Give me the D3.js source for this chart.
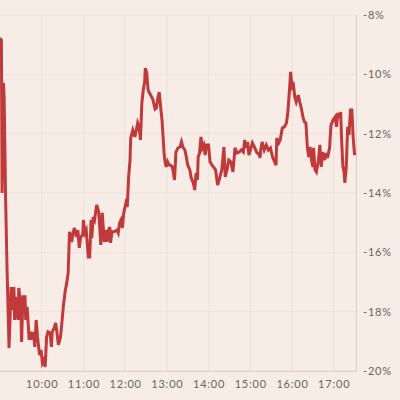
<!DOCTYPE html>
<html>
<head>
<meta charset="utf-8">
<script src="https://cdn.jsdelivr.net/npm/d3@7"></script>
<style>
body{margin:0;background:#f7ece6;}
#container{width:400px;height:400px;}
.tick text{font-family:Lato,"Open Sans",sans-serif;font-size:11px;fill:#6a6462;letter-spacing:0.8px;}
</style>
</head>
<body>
<div id="container"></div>
<script>
// minutes after 9:00 and % change at that time
var minutes = [0,2,3,5,6,8,10,12,13,16,18,20,21,24,26,27,30,31,33,36,37,39,42,44,46,48,50,52,54,56,57,59,61,63,65,67,69,72,74,75,78,80,82,84,87,89,91,94,96,98,
100,103,105,107,110,112,114,116,119,120,122,124,127,129,131,132,134,136,139,142,145,147,150,152,154,156,158,159,161,164,168,170,172,174,176,178,181,183,185,187,188,191,194,196,198,200,202,204,206,208,209,211,213,215,218,220,223,225,227,229,231,233,236,237,239,241,243,
245,248,251,253,256,259,261,263,266,268,270,273,275,278,280,282,284,285,287,289,291,293,295,297,300,302,305,307,310,313,316,319,322,324,327,329,332,335,338,341,344,347,350,352,354,356,358,360,363,366,369,373,
374,375,377,380,383,386,389,392,395,397,398,401,403,406,409,412,414,416,418,420,422,424,426,429,431,433,436,438,440,442,444,446,448,450,451,453,455,458,460,462,464,467,469,471,474,476,479,482,484,486,488,490,491,493,495,496,498,500,502,504,506,508,510]

var change = [-8.78,-8.84,-14.0,-10.29,-10.8,-14.13,-16.4,-18.3,-19.22,-17.17,-17.94,-17.17,-18.28,-17.5,-18.28,-17.2,-17.84,-19.02,-17.5,-17.5,-18.28,-17.84,-18.95,-18.68,-18.95,-18.68,-19.19,-18.28,-18.85,-19.29,-19.46,-19.29,-19.73,-19.63,-19.86,-18.85,-18.68,-18.72,-19.19,-18.68,-18.55,-18.38,-18.72,-19.12,-18.85,-18.38,-17.84,-17.27,-17.03,-16.7,
-15.31,-15.65,-15.35,-15.18,-15.48,-15.25,-15.85,-15.48,-15.41,-14.91,-15.35,-15.25,-16.16,-16.16,-14.91,-15.52,-14.81,-14.91,-14.40,-14.64,-15.75,-14.67,-15.65,-15.25,-15.65,-15.25,-15.15,-15.68,-15.31,-15.31,-15.25,-15.35,-15.01,-14.91,-15.18,-14.67,-14.34,-14.47,-13.46,-12.89,-12.15,-11.88,-12.11,-11.88,-11.64,-11.77,-12.21,-10.97,-10.53,-10.26,-9.79,-9.95,-10.53,-10.63,-10.76,-10.86,-11.17,-11.13,-10.80,-10.60,-11.10,-11.54,-12.65,-12.89,-13.12,-12.95,-13.06,
-13.06,-13.12,-13.56,-12.62,-12.48,-12.45,-12.28,-12.45,-12.55,-12.79,-13.06,-13.22,-13.49,-13.66,-13.90,-13.33,-13.56,-12.79,-12.65,-12.11,-12.48,-12.38,-12.72,-12.38,-12.38,-12.95,-13.06,-13.12,-13.22,-13.73,-13.49,-13.22,-12.45,-13.46,-13.16,-12.89,-12.95,-13.29,-12.48,-12.65,-12.62,-12.55,-12.62,-12.21,-12.48,-12.28,-12.72,-12.55,-12.31,-12.45,-12.62,-12.72,
-12.82,-12.55,-12.28,-12.55,-12.38,-12.55,-12.48,-12.79,-12.95,-13.06,-12.15,-12.31,-12.21,-11.81,-11.77,-11.64,-11.27,-10.63,-9.92,-10.43,-10.36,-10.76,-10.93,-10.70,-10.93,-11.10,-11.47,-11.61,-11.64,-12.45,-12.79,-12.45,-12.89,-13.12,-12.48,-13.22,-13.29,-12.89,-12.38,-13.12,-12.62,-12.89,-12.65,-12.82,-12.48,-11.71,-11.54,-11.44,-11.77,-11.30,-11.47,-11.27,-12.04,-13.06,-13.33,-13.66,-13.12,-11.77,-12.04,-11.20,-11.20,-12.15,-12.72]

var yTicks = [-8,-10,-12,-14,-16,-18,-20]
var xTickHours = [10,11,12,13,14,15,16,17]

var day = function(h,m){return new Date(2020,0,2,h,m)}

var data = minutes.map(function(m,i){return {time:day(9,m),value:change[i]}})

var plotW = 356, plotTop = 15, plotBottom = 371

var svg = d3.select("#container").append("svg").attr("width",400).attr("height",400)

var xScale = d3.scaleTime().domain([day(9,0),day(17,32)]).range([0,plotW])
var yScale = d3.scaleLinear().domain([-20,-8]).range([plotBottom,plotTop])

// grid
svg.selectAll(".hgrid").data(yTicks).enter().append("line")
    .attr("class","hgrid")
    .attr("x1",0).attr("x2",plotW)
    .attr("y1",function(d){return yScale(d)}).attr("y2",function(d){return yScale(d)})
    .attr("stroke","#efe2d9").attr("stroke-width",1)

svg.selectAll(".vgrid").data(xTickHours).enter().append("line")
    .attr("class","vgrid")
    .attr("x1",function(d){return xScale(day(d,0))}).attr("x2",function(d){return xScale(day(d,0))})
    .attr("y1",plotTop).attr("y2",plotBottom)
    .attr("stroke","#efe2d9").attr("stroke-width",1)

// axes
var yAxis = svg.append("g").attr("transform","translate("+plotW+",0)")
    .call(d3.axisRight(yScale).tickValues(yTicks).tickSize(0).tickPadding(7)
        .tickFormat(function(d){return d+"%"}))
yAxis.select(".domain").remove()

var xAxis = svg.append("g").attr("transform","translate(0,"+plotBottom+")")
    .call(d3.axisBottom(xScale).tickValues(xTickHours.map(function(h){return day(h,0)})).tickSize(0).tickPadding(9)
        .tickFormat(d3.timeFormat("%H:%M")))
xAxis.select(".domain").remove()

svg.append("line").attr("x1",plotW+0.5).attr("x2",plotW+0.5).attr("y1",plotTop).attr("y2",plotBottom)
    .attr("stroke","#dccfc9")
svg.append("line").attr("x1",0).attr("x2",plotW+0.5).attr("y1",plotBottom+0.5).attr("y2",plotBottom+0.5)
    .attr("stroke","#dccfc9")

svg.append("path")
    .datum(data)
    .attr("fill","none")
    .attr("stroke","#c0393b")
    .attr("stroke-width",3)
    .attr("d",d3.line()
        .x(function(d){return xScale(d.time)})
        .y(function(d){return yScale(d.value)}))
</script>
</body>
</html>
